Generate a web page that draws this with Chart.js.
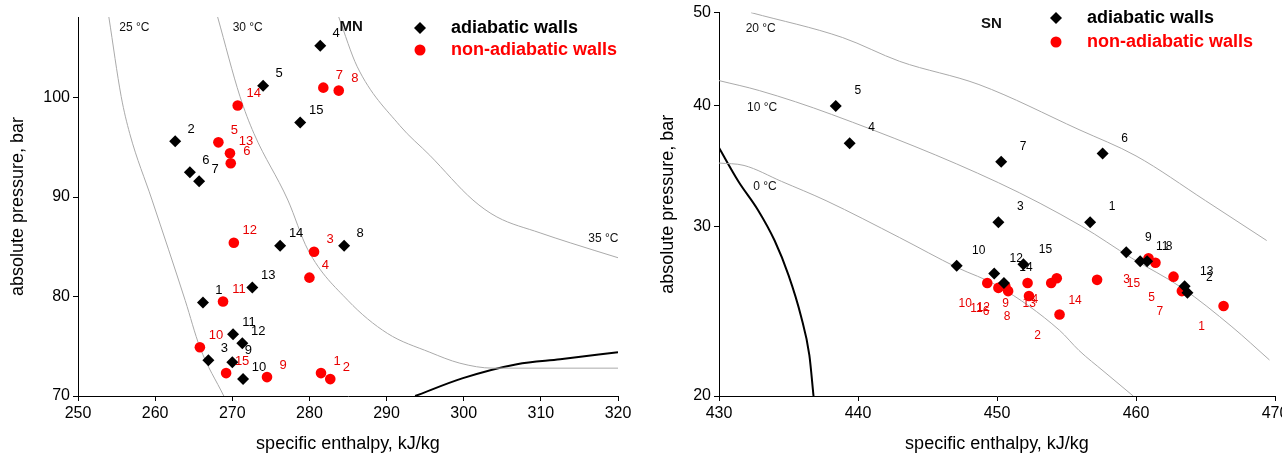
<!DOCTYPE html>
<html>
<head>
<meta charset="utf-8">
<script src="https://cdn.jsdelivr.net/npm/chart.js@4.4.1/dist/chart.umd.min.js"></script>
<style>
  html, body { margin: 0; padding: 0; background: #fff; overflow: hidden; }
  #wrap { position: relative; width: 1282px; height: 463px; overflow: hidden; }
  #c1 { position: absolute; left: 0; top: 0; }
  #c2 { position: absolute; left: 640px; top: 0; }
</style>
</head>
<body>
<div id="wrap">
  <canvas id="c1" width="640" height="463"></canvas>
  <canvas id="c2" width="665" height="463"></canvas>
</div>
<script>
var FONT = '"Liberation Sans", Arial, sans-serif';
var RED = '#f00';

// point numbers (same 1..15 for every series)
var ids = [1, 2, 3, 4, 5, 6, 7, 8, 9, 10, 11, 12, 13, 14, 15];

// MN panel - specific enthalpy (kJ/kg) and absolute pressure (bar)
var mnAdiabaticH    = [266.2, 262.6, 266.9, 281.4, 274.0, 264.5, 265.7, 284.5, 270.0, 271.4, 270.1, 271.3, 272.6, 276.2, 278.8];
var mnAdiabaticP    = [79.4, 95.6, 73.6, 105.2, 101.2, 92.5, 91.6, 85.1, 73.4, 71.7, 76.2, 75.3, 80.9, 85.1, 97.5];
var mnNonAdiabaticH = [281.5, 282.7, 280.6, 280.0, 268.2, 269.8, 281.8, 283.8, 274.5, 265.8, 268.8, 270.2, 269.7, 270.7, 269.2];
var mnNonAdiabaticP = [72.3, 71.7, 84.5, 81.9, 95.5, 93.4, 101.0, 100.7, 71.9, 74.9, 79.5, 85.4, 94.4, 99.2, 72.3];

// MN isotherms and saturation line
var mn25H = [254.0, 255.6, 256.7, 259.6, 263.9, 265.8, 268.9];
var mn25P = [108.1, 100.1, 96.4, 89.7, 79.6, 74.9, 70.0];
var mn30H = [268.1, 271.0, 272.8, 277.2, 279.8, 285.0, 290.1, 295.6, 299.5, 303.8, 320.0];
var mn30P = [108.1, 100.1, 96.4, 89.7, 84.7, 79.6, 76.3, 74.4, 73.3, 72.8, 72.8];
var mn35H = [283.8, 286.2, 291.7, 295.6, 301.2, 304.3, 309.9, 313.8, 320.0];
var mn35P = [108.1, 103.1, 97.2, 94.2, 89.7, 88.0, 86.4, 85.4, 83.9];
var mnSatH = [293.7, 299.9, 306.9, 312.5, 320.0];
var mnSatP = [70.0, 71.8, 73.2, 73.7, 74.4];

var mnXTicks = [250, 260, 270, 280, 290, 300, 310, 320];
var mnYTicks = [70, 80, 90, 100];

// SN panel
var snAdiabaticH    = [456.7, 463.7, 450.1, 439.4, 438.4, 457.6, 450.3, 460.8, 459.3, 447.1, 460.3, 449.8, 463.5, 450.5, 451.9];
var snAdiabaticP    = [30.3, 25.6, 30.3, 36.6, 40.0, 35.7, 35.0, 27.6, 28.2, 27.3, 27.6, 26.8, 26.0, 26.2, 27.4];
var snNonAdiabaticH = [466.3, 454.5, 460.9, 454.3, 462.7, 450.8, 463.3, 452.3, 452.2, 449.3, 450.1, 450.6, 453.9, 457.2, 461.4];
var snNonAdiabaticP = [24.8, 24.3, 27.8, 26.5, 26.6, 25.7, 25.7, 25.4, 26.2, 26.2, 25.9, 26.0, 26.2, 26.4, 27.5];

var sn20H = [432.3, 438.9, 443.0, 448.7, 455.9, 460.0, 465.0, 469.4];
var sn20P = [50.0, 47.1, 44.5, 42.1, 37.8, 35.5, 31.9, 29.0];
var sn10H = [430.0, 432.9, 438.1, 450.1, 456.1, 459.7, 463.3, 466.9, 469.6];
var sn10P = [42.5, 41.5, 39.2, 33.3, 30.0, 27.8, 25.9, 23.6, 21.8];
var sn0H  = [430.0, 431.8, 434.5, 437.7, 443.0, 447.1, 450.1, 454.5, 455.9, 457.7, 459.8];
var sn0P  = [34.9, 34.7, 33.4, 31.9, 29.2, 27.2, 26.0, 23.4, 22.3, 21.2, 20.0];
var snSatH = [430.0, 431.4, 432.8, 434.0, 435.0, 435.9, 436.5, 436.8];
var snSatP = [36.2, 33.4, 31.2, 29.0, 26.7, 24.2, 22.05, 20.0];

var snXTicks = [430, 440, 450, 460, 470];
var snYTicks = [20, 30, 40, 50];

function pts(hs, ps){
  return hs.map(function(h, i){ return {x: h, y: ps[i]}; });
}

function markers(hs, ps, style, color, dx, dy, size){
  return {
    data: pts(hs, ps), ids: ids,
    pointStyle: style, pointRadius: style == 'rectRot' ? 6 : 5.3,
    backgroundColor: color, borderColor: color, borderWidth: 0,
    labelColor: color == RED ? '#e80000' : '#000', labelDx: dx, labelDy: dy, labelSize: size
  };
}

function curve(hs, ps, color, width){
  return {
    data: pts(hs, ps), showLine: true, pointRadius: 0,
    borderColor: color, borderWidth: width, tension: 0.4, cubicInterpolationMode: 'monotone'
  };
}

// number next to each marker
var pointLabels = {
  id: 'pointLabels',
  afterDatasetsDraw: function(chart){
    var ctx = chart.ctx;
    chart.data.datasets.forEach(function(ds, i){
      if(!ds.ids) return;
      var meta = chart.getDatasetMeta(i);
      ctx.save();
      ctx.font = ds.labelSize + 'px ' + FONT;
      ctx.fillStyle = ds.labelColor;
      ctx.textAlign = 'center';
      ctx.textBaseline = 'middle';
      meta.data.forEach(function(el, j){
        ctx.fillText(ds.ids[j], el.x + ds.labelDx, el.y + ds.labelDy);
      });
      ctx.restore();
    });
  }
};

// isotherm names, panel name and the legend
function notesPlugin(notes, legend){
  return {
    id: 'notes',
    afterDraw: function(chart){
      var ctx = chart.ctx, sx = chart.scales.x, sy = chart.scales.y;
      ctx.save();
      ctx.textAlign = 'center';
      ctx.textBaseline = 'middle';
      notes.forEach(function(n){
        ctx.font = (n.bold ? 'bold ' : '') + n.size + 'px ' + FONT;
        ctx.fillStyle = '#111';
        ctx.fillText(n.text, sx.getPixelForValue(n.x), sy.getPixelForValue(n.y));
      });
      // legend
      ctx.textAlign = 'left';
      ctx.font = 'bold 18px ' + FONT;
      var lx = legend.x, ly = legend.y;
      ctx.fillStyle = '#000';
      ctx.beginPath();
      ctx.moveTo(lx, ly - 6); ctx.lineTo(lx + 6, ly); ctx.lineTo(lx, ly + 6); ctx.lineTo(lx - 6, ly);
      ctx.closePath(); ctx.fill();
      ctx.fillText('adiabatic walls', lx + 31, ly);
      ctx.fillStyle = RED;
      ctx.beginPath(); ctx.arc(lx, ly + legend.gap, 5.5, 0, Math.PI * 2); ctx.fill();
      ctx.fillText('non-adiabatic walls', lx + 31, ly + legend.gap);
      ctx.restore();
    }
  };
}

function scales(o){
  return {
    x: {
      type: 'linear', min: o.xmin, max: o.xmax,
      afterBuildTicks: function(a){ a.ticks = o.xticks.map(function(v){ return {value: v}; }); },
      afterFit: function(a){ a.height = 67; },
      grid: {drawOnChartArea: false, drawTicks: true, tickLength: 5, color: '#000'},
      border: {display: true, color: '#000', width: 1},
      ticks: {color: '#000', font: {family: FONT, size: 16}, padding: 3, maxRotation: 0, autoSkip: false,
              callback: function(v){ return v; }},
      title: {display: true, text: 'specific enthalpy, kJ/kg', color: '#000',
              font: {family: FONT, size: 18}, padding: {top: 4, bottom: 8}}
    },
    y: {
      type: o.ytype, min: o.ymin, max: o.ymax,
      afterBuildTicks: function(a){ a.ticks = o.yticks.map(function(v){ return {value: v, major: false}; }); },
      afterFit: function(a){ a.width = o.yw; },
      grid: {drawOnChartArea: false, drawTicks: true, tickLength: 5, color: '#000'},
      border: {display: true, color: '#000', width: 1},
      ticks: {color: '#000', font: {family: FONT, size: 16}, padding: 3, autoSkip: false,
              callback: function(v){ return v; }},
      title: {display: true, text: 'absolute pressure, bar', color: '#000',
              font: {family: FONT, size: 18}, padding: {top: o.titlePad, bottom: 0}}
    }
  };
}

new Chart(document.getElementById('c1'), {
  type: 'scatter',
  data: {
    datasets: [
      markers(mnAdiabaticH, mnAdiabaticP, 'rectRot', '#000', 16, -12, 13),
      markers(mnNonAdiabaticH, mnNonAdiabaticP, 'circle', RED, 16, -12, 13),
      curve(mn25H, mn25P, '#aaa', 1),
      curve(mn30H, mn30P, '#aaa', 1),
      curve(mn35H, mn35P, '#aaa', 1),
      curve(mnSatH, mnSatP, '#000', 2)
    ]
  },
  options: {
    responsive: false, animation: false, events: [],
    layout: {padding: {left: 0, right: 22, top: 17, bottom: 0}},
    plugins: {legend: {display: false}, tooltip: {enabled: false}},
    scales: scales({xmin: 250, xmax: 320, xticks: mnXTicks, ytype: 'linear', ymin: 70, ymax: 108.1,
                     yticks: mnYTicks, yw: 78, titlePad: 7})
  },
  plugins: [pointLabels, notesPlugin([
    {text: '25 °C', x: 257.3, y: 107.0, size: 12},
    {text: '30 °C', x: 272.0, y: 107.0, size: 12},
    {text: 'MN', x: 285.4, y: 107.1, size: 15, bold: true},
    {text: '35 °C', x: 318.1, y: 85.8, size: 12}
  ], {x: 420, y: 28, gap: 22})]
});

new Chart(document.getElementById('c2'), {
  type: 'scatter',
  data: {
    datasets: [
      markers(snAdiabaticH, snAdiabaticP, 'rectRot', '#000', 22, -15, 12),
      markers(snNonAdiabaticH, snNonAdiabaticP, 'circle', RED, -22, 21, 12),
      curve(sn20H, sn20P, '#aaa', 1),
      curve(sn10H, sn10P, '#aaa', 1),
      curve(sn0H, sn0P, '#aaa', 1),
      curve(snSatH, snSatP, '#000', 2)
    ]
  },
  options: {
    responsive: false, animation: false, events: [],
    layout: {padding: {left: 0, right: 30, top: 11, bottom: 0}},
    plugins: {legend: {display: false}, tooltip: {enabled: false}},
    scales: scales({xmin: 430, xmax: 470, xticks: snXTicks, ytype: 'logarithmic', ymin: 20, ymax: 50,
                     yticks: snYTicks, yw: 79, titlePad: 17})
  },
  plugins: [pointLabels, notesPlugin([
    {text: '20 °C', x: 433.0, y: 48.1, size: 12},
    {text: '10 °C', x: 433.1, y: 39.8, size: 12},
    {text: '0 °C', x: 433.3, y: 33.0, size: 12},
    {text: 'SN', x: 449.6, y: 48.7, size: 15, bold: true}
  ], {x: 416, y: 18, gap: 24})]
});
</script>
</body>
</html>
